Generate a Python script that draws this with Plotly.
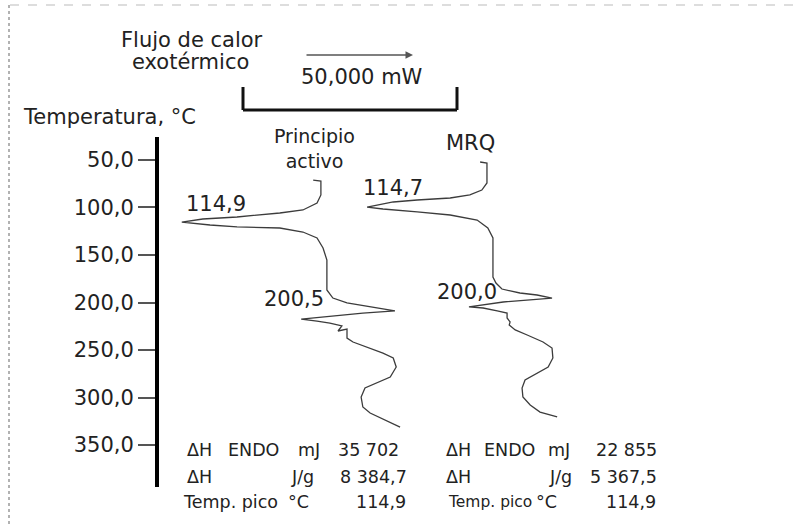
import plotly.graph_objects as go

# ---- Data (heat flow in mW, temperature in °C) ----
pa_flow = [16.4, 18.2, 18.2, 17.3, 14.0, 8.6, -1.4, -9.4, -14.3, -7.7, -1.4, 8.6, 14.0, 17.3,
           18.7, 19.6, 19.6, 21.0, 24.3, 29.7, 35.5, 28.0, 21.0, 13.6, 17.3, 20.3, 23.1, 22.2,
           24.3, 24.3, 25.7, 29.0, 32.7, 35.1, 35.8, 34.4, 31.3, 28.5, 27.6, 28.0, 29.7, 32.7, 36.7]
pa_temp = [71.1, 72.1, 86.8, 95.3, 102.6, 105.8, 110.0, 112.1, 115.3, 118.4, 120.5, 121.6, 125.8, 132.1,
           142.6, 155.3, 186.8, 195.3, 200.5, 204.7, 208.9, 211.1, 214.2, 217.4, 219.5, 221.6, 224.7, 230.0,
           227.9, 237.4, 241.6, 246.8, 253.2, 258.4, 267.9, 278.4, 284.7, 290.0, 299.5, 310.0, 316.3, 322.6, 331.1]

mrq_flow = [55.4, 57.0, 57.0, 55.8, 53.0, 48.4, 40.7, 35.1, 29.0, 32.7, 40.7, 48.4, 54.7, 57.2, 58.4,
            58.4, 58.4, 59.1, 60.5, 64.7, 68.7, 72.2, 67.1, 60.8, 52.8, 56.1, 59.4, 61.7, 61.7, 62.4,
            62.2, 63.6, 66.4, 70.1, 72.2, 72.4, 71.3, 68.7, 65.9, 65.2, 65.4, 67.1, 69.4, 73.4]
mrq_temp = [52.1, 53.2, 74.2, 81.6, 86.8, 90.0, 92.1, 94.2, 99.5, 101.6, 104.7, 107.9, 113.2, 121.6, 132.1,
            155.3, 173.2, 179.5, 185.8, 190.0, 192.1, 195.3, 197.4, 199.5, 204.7, 205.8, 208.9, 211.1, 216.3, 220.5,
            223.7, 228.9, 234.2, 241.6, 247.9, 258.4, 267.9, 274.2, 281.6, 290.0, 299.5, 307.9, 315.3, 320.5]

temp_ticks = [50, 100, 150, 200, 250, 300, 350]
temp_tick_labels = ["50,0", "100,0", "150,0", "200,0", "250,0", "300,0", "350,0"]

scale_mw = 50.0
scale_label = "50,000 mW"

peak_labels = ["114,9", "200,5", "114,7", "200,0"]

table_pa = [["ΔH", "ENDO", "mJ", "35 702"],
            ["ΔH", "", "J/g", "8 384,7"],
            ["Temp. pico", "", "°C", "114,9"]]
table_mrq = [["ΔH", "ENDO", "mJ", "22 855"],
             ["ΔH", "", "J/g", "5 367,5"],
             ["Temp. pico", "", "°C", "114,9"]]

# ---- Layout helpers (pixel -> paper) ----
W, H = 800, 524
def px(x):
    return x / W
def py(y):
    return 1 - y / H

FONT = "DejaVu Sans"
TXT = "#222222"

fig = go.Figure()
fig.add_trace(go.Scatter(x=pa_flow, y=pa_temp, mode="lines", name="Principio activo",
                         line=dict(color="#3c3c3c", width=1.3), showlegend=False))
fig.add_trace(go.Scatter(x=mrq_flow, y=mrq_temp, mode="lines", name="MRQ",
                         line=dict(color="#3c3c3c", width=1.3), showlegend=False))

annotations = []
def label(text, x, y, xanchor="center", size=21):
    annotations.append(dict(text=text, x=px(x), y=py(y), xref="paper", yref="paper",
                            xanchor=xanchor, yanchor="middle", showarrow=False,
                            font=dict(family=FONT, size=size, color=TXT)))

label("Flujo de calor", 192, 40)
label("exotérmico", 190, 62)
label(scale_label, 362, 77)
label("Temperatura, °C", 21, 117, "left")
label("Principio<br>activo", 314, 148, size=19)
label("MRQ", 470, 143)
label(peak_labels[0], 184, 204, "left")
label(peak_labels[1], 262, 299, "left")
label(peak_labels[2], 361, 188, "left")
label(peak_labels[3], 435, 292, "left")

row_y = [450, 477, 502]
def table(rows, cols_x, sizes):
    for r, row in enumerate(rows):
        for c, cell in enumerate(row):
            if not cell:
                continue
            xa = "right" if c == 3 else "left"
            label(cell, cols_x[r][c], row_y[r], xa, size=sizes[r][c])

sz = [[17.5] * 4, [17.5] * 4, [17.5] * 4]
sz_r = [[17.5] * 4, [17.5] * 4, [15.5, 17.5, 17.5, 17.5]]
table(table_pa, [[185, 226, 296, 401], [185, 0, 289, 409], [181, 0, 286, 408]], sz)
table(table_mrq, [[444, 482, 546, 659], [444, 0, 547, 659], [446, 0, 534, 658]], sz_r)

# heat-flow arrow
annotations.append(dict(x=(413 - 243) / 4.28, y=py(55), xref="x", yref="paper",
                        ax=(305 - 243) / 4.28, ay=0, axref="x", ayref="pixel",
                        showarrow=True, arrowhead=2, arrowsize=1, arrowwidth=1.5,
                        arrowcolor="#555555", text=""))

shapes = []
# scale bracket (50 mW wide, in data units)
bar_top, bar_bot = py(87), py(110)
for xs in (0.0, scale_mw):
    shapes.append(dict(type="line", xref="x", yref="paper", x0=xs, x1=xs, y0=bar_top, y1=bar_bot,
                       line=dict(color="#111111", width=3)))
shapes.append(dict(type="line", xref="x", yref="paper", x0=0.0, x1=scale_mw, y0=bar_bot, y1=bar_bot,
                   line=dict(color="#111111", width=3)))
# dashed frame top / left
shapes.append(dict(type="line", xref="paper", yref="paper", x0=px(10), x1=1.0, y0=py(5), y1=py(5),
                   line=dict(color="#bbbbbb", width=1.2, dash="dash")))
shapes.append(dict(type="line", xref="paper", yref="paper", x0=px(9), x1=px(9), y0=py(5), y1=0.0,
                   line=dict(color="#999999", width=1.5, dash="dot")))

x_left_px = 159
fig.update_layout(
    width=W, height=H, margin=dict(l=0, r=0, t=0, b=0),
    paper_bgcolor="white", plot_bgcolor="white",
    xaxis=dict(domain=[px(x_left_px), 1.0], range=[(x_left_px - 243) / 4.28, (800 - 243) / 4.28],
               visible=False, fixedrange=True),
    yaxis=dict(domain=[py(487), py(137)], range=[394.2, 25.8],
               tickvals=temp_ticks, ticktext=temp_tick_labels,
               ticks="outside", ticklen=17, tickwidth=1.5, tickcolor="#555555",
               showline=True, linewidth=4, linecolor="black",
               showgrid=False, zeroline=False, fixedrange=True,
               tickfont=dict(family=FONT, size=21, color=TXT)),
    annotations=annotations, shapes=shapes, showlegend=False,
)

fig.write_html("out.html", config={"displayModeBar": False},
               post_script="document.body.style.margin='0';document.body.style.padding='0';")
